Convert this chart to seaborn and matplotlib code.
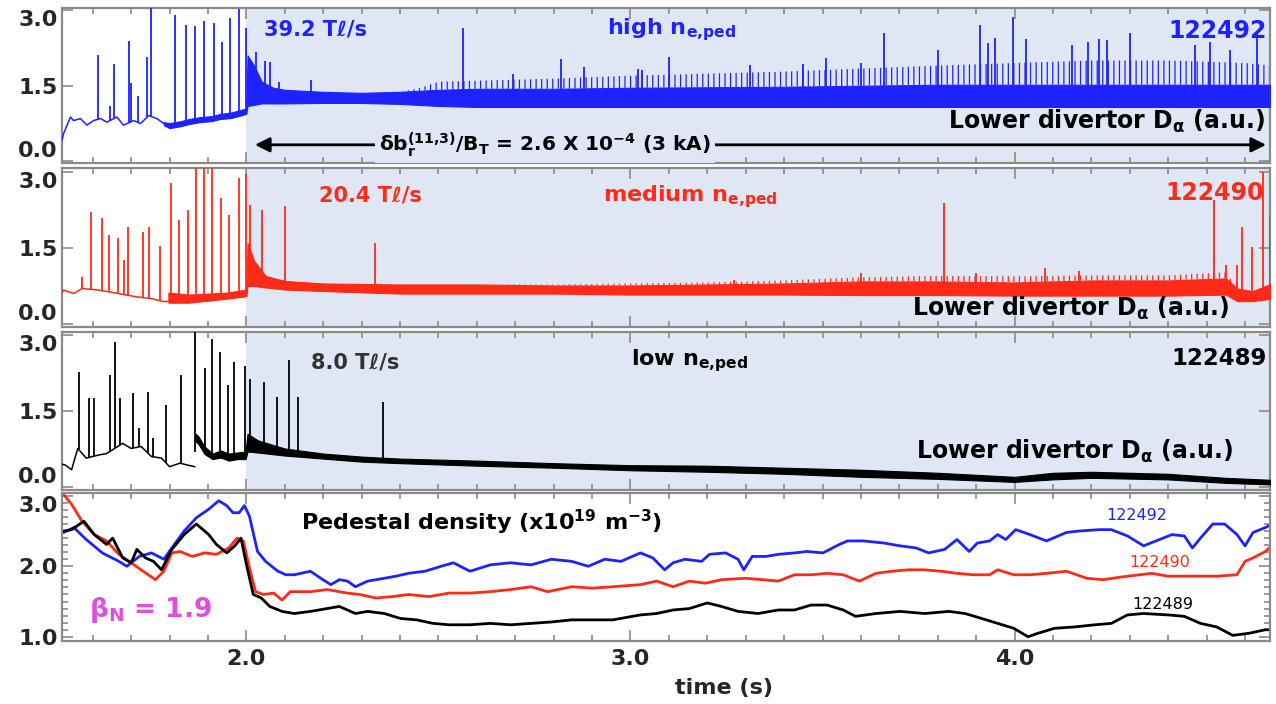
import numpy as np
import matplotlib
matplotlib.use("Agg")
import matplotlib.pyplot as plt
import seaborn as sns
from matplotlib.patches import FancyArrowPatch
from matplotlib.ticker import MultipleLocator, FixedLocator

# ------------------------------------------------------------------ data
# Panel 1 : shot 122492 (high n_e,ped), lower divertor D-alpha (a.u.)
blue_trace_t = [1.520, 1.524, 1.542, 1.550, 1.568, 1.585, 1.602, 1.620, 1.637,
                1.663, 1.680, 1.707, 1.724, 1.746, 1.767, 1.785]
blue_trace_v = [0.42, 0.55, 0.88, 0.81, 0.85, 0.72, 0.81, 0.85, 0.78,
                0.88, 0.72, 0.81, 0.75, 0.91, 0.85, 0.75]
blue_band_t = [1.785, 1.80, 1.83, 1.85, 1.88, 1.91, 1.93, 1.96, 1.99, 2.0,
               2.003, 2.02, 2.04, 2.07, 2.10, 2.20, 2.30, 2.40, 2.45, 2.50,
               2.60, 2.80, 3.00, 3.20, 3.40, 3.60, 3.80, 4.00, 4.20, 4.40,
               4.60, 4.67]
blue_band_lo = [0.72, 0.66, 0.70, 0.74, 0.78, 0.80, 0.84, 0.86, 0.92, 0.95,
                1.10, 1.12, 1.15, 1.15, 1.15, 1.16, 1.16, 1.14, 1.12, 1.10,
                1.08, 1.08, 1.08, 1.08, 1.08, 1.08, 1.08, 1.08, 1.08, 1.08,
                1.08, 1.08]
blue_band_hi = [0.78, 0.76, 0.80, 0.84, 0.88, 0.90, 0.94, 0.97, 1.03, 1.05,
                2.10, 1.90, 1.58, 1.46, 1.42, 1.38, 1.36, 1.38, 1.40, 1.42,
                1.44, 1.44, 1.46, 1.47, 1.48, 1.50, 1.52, 1.52, 1.52, 1.52,
                1.52, 1.52]
blue_fringe_hi = [0.78, 0.76, 0.80, 0.84, 0.88, 0.90, 0.94, 0.97, 1.03, 1.05,
                  2.10, 1.90, 1.58, 1.46, 1.42, 1.38, 1.36, 1.38, 1.45, 1.58,
                  1.60, 1.64, 1.70, 1.74, 1.78, 1.84, 1.90, 1.95, 2.00, 2.00,
                  1.95, 1.90]
blue_spike_t = [1.614, 1.646, 1.656, 1.695, 1.700, 1.718, 1.741, 1.752, 1.813,
                1.842, 1.865, 1.889, 1.915, 1.937, 1.958, 1.980, 2.000, 2.026,
                2.049, 2.062, 2.084, 2.167, 2.564, 2.695, 2.82, 2.88, 3.02,
                3.03, 3.10, 3.31, 3.45, 3.51, 3.60, 3.66, 3.80, 3.91, 3.93,
                3.95, 3.995, 4.03, 4.15, 4.19, 4.22, 4.24, 4.30, 4.47, 4.51,
                4.56, 4.63]
blue_spike_h = [2.10, 1.10, 1.93, 2.39, 1.55, 1.30, 2.07, 3.07, 2.90,
                2.70, 2.68, 2.79, 2.75, 2.37, 2.85, 3.03, 2.64, 2.17,
                2.00, 1.97, 1.58, 1.61, 2.64, 1.74, 2.02, 1.87, 1.84,
                1.81, 2.07, 1.91, 1.94, 2.05, 1.95, 2.55, 2.20, 2.70, 2.34,
                2.44, 2.87, 2.42, 2.30, 2.37, 2.42, 2.40, 2.54, 2.30, 2.37,
                2.20, 2.57]

# Panel 2 : shot 122490 (medium n_e,ped)
red_trace_t = [1.520, 1.524, 1.551, 1.572, 1.615, 1.668, 1.710, 1.753, 1.785, 1.797]
red_trace_v = [0.62, 0.67, 0.60, 0.70, 0.67, 0.60, 0.54, 0.50, 0.44, 0.45]
red_band_t = [1.797, 1.85, 1.90, 1.95, 2.0, 2.003, 2.02, 2.05, 2.10, 2.20, 2.40,
              2.60, 2.80, 3.00, 3.20, 3.40, 3.60, 3.80, 4.00, 4.20, 4.40, 4.55,
              4.58, 4.62, 4.67]
red_band_lo = [0.42, 0.42, 0.46, 0.50, 0.55, 0.75, 0.75, 0.72, 0.68, 0.65, 0.60,
               0.60, 0.60, 0.58, 0.58, 0.58, 0.57, 0.57, 0.56, 0.56, 0.56, 0.58,
               0.45, 0.45, 0.50]
red_band_hi = [0.62, 0.58, 0.60, 0.62, 0.68, 1.60, 1.25, 0.95, 0.85, 0.80, 0.78,
               0.78, 0.76, 0.76, 0.78, 0.80, 0.84, 0.84, 0.82, 0.86, 0.86, 0.90,
               0.70, 0.65, 0.80]
red_fringe_hi = [0.62, 0.58, 0.60, 0.62, 0.68, 1.60, 1.25, 0.95, 0.85, 0.80, 0.78,
                 0.78, 0.78, 0.80, 0.82, 0.86, 0.92, 0.95, 0.94, 0.96, 0.96, 1.02,
                 0.70, 0.65, 0.80]
red_spike_t = [1.572, 1.595, 1.625, 1.643, 1.666, 1.682, 1.692, 1.731, 1.746,
               1.774, 1.804, 1.825, 1.848, 1.870, 1.889, 1.910, 1.933, 1.955,
               1.981, 2.000, 2.010, 2.040, 2.100, 2.334, 3.27, 3.60, 3.816,
               3.90, 4.08, 4.167, 4.518, 4.55, 4.58, 4.593, 4.617, 4.648, 4.665]
red_spike_h = [0.93, 2.22, 2.09, 1.76, 1.69, 1.26, 1.92, 1.82, 1.92,
               1.53, 2.78, 2.05, 2.25, 3.10, 3.10, 3.10, 2.48, 2.15,
               2.88, 2.97, 2.35, 2.25, 2.32, 1.59, 0.87, 1.00, 2.39,
               1.00, 1.10, 1.05, 2.45, 1.16, 1.16, 1.91, 1.52, 3.00, 2.13]

# Panel 3 : shot 122489 (low n_e,ped)
blk_trace_t = [1.520, 1.529, 1.545, 1.561, 1.583, 1.615, 1.636, 1.678, 1.700,
               1.726, 1.753, 1.779, 1.800, 1.827, 1.848, 1.866]
blk_trace_v = [0.45, 0.43, 0.34, 0.76, 0.57, 0.63, 0.66, 0.86, 0.76,
               0.80, 0.60, 0.57, 0.40, 0.47, 0.43, 0.40]
blk_band_t = [1.868, 1.875, 1.891, 1.912, 1.933, 1.955, 1.976, 1.998, 2.003,
              2.03, 2.10, 2.20, 2.30, 2.40, 2.60, 2.80, 3.00, 3.20, 3.40, 3.60,
              3.80, 4.00, 4.10, 4.20, 4.40, 4.55, 4.67]
blk_band_lo = [0.90, 0.85, 0.65, 0.55, 0.58, 0.52, 0.55, 0.55, 0.70,
               0.68, 0.62, 0.56, 0.50, 0.47, 0.42, 0.38, 0.33, 0.30, 0.26, 0.20,
               0.16, 0.10, 0.15, 0.18, 0.15, 0.08, 0.05]
blk_band_hi = [1.05, 1.00, 0.80, 0.66, 0.72, 0.66, 0.68, 0.70, 1.05,
               0.92, 0.76, 0.66, 0.60, 0.56, 0.52, 0.47, 0.43, 0.42, 0.38, 0.34,
               0.28, 0.20, 0.28, 0.30, 0.26, 0.18, 0.14]
blk_spike_t = [1.563, 1.591, 1.604, 1.644, 1.659, 1.670, 1.705, 1.721, 1.744,
               1.758, 1.790, 1.830, 1.867, 1.891, 1.910, 1.931, 1.951, 1.968,
               1.997, 2.010, 2.045, 2.079, 2.112, 2.135, 2.357]
blk_spike_h = [2.28, 1.75, 1.75, 2.21, 2.87, 1.75, 1.85, 1.16, 1.88,
               0.96, 1.62, 2.21, 3.10, 2.34, 2.93, 2.67, 2.01, 2.47,
               2.38, 2.14, 2.08, 1.78, 2.50, 1.78, 1.68]

# Panel 4 : pedestal density (x10^19 m^-3)
ped_blue_t = [1.524, 1.551, 1.583, 1.625, 1.668, 1.689, 1.721, 1.753, 1.785, 1.806,
              1.838, 1.870, 1.902, 1.928, 1.949, 1.965, 1.981, 1.995, 2.008, 2.029,
              2.050, 2.082, 2.103, 2.125, 2.167, 2.199, 2.220, 2.242, 2.263, 2.284,
              2.316, 2.359, 2.390, 2.422, 2.465, 2.507, 2.539, 2.582, 2.635, 2.688,
              2.741, 2.794, 2.847, 2.890, 2.933, 2.975, 3.026, 3.058, 3.089, 3.111,
              3.142, 3.185, 3.206, 3.248, 3.280, 3.295, 3.317, 3.353, 3.385, 3.427,
              3.459, 3.501, 3.544, 3.565, 3.607, 3.660, 3.702, 3.744, 3.776, 3.818,
              3.850, 3.882, 3.903, 3.935, 3.956, 3.977, 4.003, 4.040, 4.083, 4.135,
              4.167, 4.220, 4.252, 4.294, 4.336, 4.368, 4.410, 4.442, 4.463, 4.484,
              4.516, 4.547, 4.579, 4.600, 4.621, 4.653, 4.683]
ped_blue_v = [2.48, 2.55, 2.38, 2.19, 2.07, 2.00, 2.14, 2.19, 2.10, 2.26,
              2.50, 2.69, 2.81, 2.93, 2.86, 2.76, 2.76, 2.86, 2.71, 2.21,
              2.07, 1.93, 1.88, 1.88, 1.93, 1.81, 1.74, 1.81, 1.79, 1.71,
              1.79, 1.83, 1.86, 1.90, 1.93, 2.00, 2.05, 1.93, 2.02, 2.05,
              2.02, 2.10, 2.07, 2.00, 2.10, 2.07, 2.19, 2.12, 1.95, 2.05,
              2.10, 2.07, 2.17, 2.19, 2.10, 1.95, 2.14, 2.14, 2.17, 2.19,
              2.21, 2.19, 2.31, 2.36, 2.36, 2.33, 2.29, 2.26, 2.19, 2.24,
              2.38, 2.21, 2.33, 2.36, 2.45, 2.38, 2.52, 2.45, 2.36, 2.48,
              2.50, 2.52, 2.52, 2.43, 2.29, 2.36, 2.45, 2.43, 2.26, 2.40,
              2.60, 2.60, 2.45, 2.29, 2.48, 2.55, 2.64]
ped_red_t = [1.520, 1.524, 1.545, 1.572, 1.604, 1.636, 1.668, 1.700, 1.731, 1.763,
             1.785, 1.806, 1.827, 1.859, 1.891, 1.922, 1.954, 1.976, 1.992, 2.008,
             2.024, 2.045, 2.071, 2.093, 2.114, 2.167, 2.210, 2.263, 2.295, 2.337,
             2.380, 2.422, 2.475, 2.528, 2.582, 2.635, 2.688, 2.741, 2.784, 2.847,
             2.901, 2.954, 3.026, 3.068, 3.111, 3.153, 3.195, 3.237, 3.301, 3.343,
             3.385, 3.427, 3.470, 3.512, 3.554, 3.596, 3.639, 3.681, 3.723, 3.766,
             3.808, 3.850, 3.892, 3.935, 3.956, 3.998, 4.040, 4.083, 4.135, 4.188,
             4.230, 4.294, 4.357, 4.399, 4.463, 4.526, 4.579, 4.600, 4.621, 4.653,
             4.683]
ped_red_v = [3.05, 3.02, 2.88, 2.64, 2.45, 2.36, 2.17, 2.05, 1.93, 1.81,
             1.93, 2.19, 2.21, 2.14, 2.19, 2.17, 2.26, 2.40, 2.36, 1.98,
             1.64, 1.60, 1.62, 1.52, 1.64, 1.64, 1.67, 1.62, 1.60, 1.55,
             1.57, 1.60, 1.57, 1.62, 1.62, 1.64, 1.67, 1.71, 1.64, 1.71,
             1.69, 1.71, 1.74, 1.79, 1.71, 1.79, 1.76, 1.81, 1.83, 1.81,
             1.79, 1.88, 1.88, 1.90, 1.88, 1.79, 1.90, 1.93, 1.95, 1.95,
             1.93, 1.90, 1.88, 1.88, 1.95, 1.88, 1.88, 1.90, 1.93, 1.83,
             1.81, 1.86, 1.90, 1.86, 1.86, 1.86, 1.88, 2.07, 2.12, 2.21,
             2.36]
ped_blk_t = [1.524, 1.545, 1.577, 1.604, 1.636, 1.652, 1.678, 1.700, 1.715, 1.737,
             1.758, 1.779, 1.806, 1.838, 1.870, 1.902, 1.922, 1.949, 1.970, 1.986,
             2.002, 2.018, 2.039, 2.061, 2.093, 2.125, 2.167, 2.210, 2.242, 2.284,
             2.316, 2.359, 2.401, 2.443, 2.486, 2.528, 2.582, 2.635, 2.688, 2.741,
             2.794, 2.847, 2.901, 2.954, 3.026, 3.068, 3.111, 3.153, 3.200, 3.237,
             3.280, 3.332, 3.385, 3.427, 3.470, 3.512, 3.554, 3.586, 3.639, 3.702,
             3.766, 3.829, 3.871, 3.914, 3.956, 3.998, 4.035, 4.061, 4.104, 4.157,
             4.209, 4.252, 4.294, 4.336, 4.400, 4.442, 4.484, 4.526, 4.568, 4.611,
             4.653, 4.682]
ped_blk_v = [2.50, 2.52, 2.64, 2.45, 2.31, 2.40, 2.12, 2.05, 2.24, 2.12,
             2.07, 1.95, 2.24, 2.45, 2.60, 2.45, 2.31, 2.19, 2.29, 2.40,
             1.98, 1.60, 1.55, 1.43, 1.36, 1.33, 1.36, 1.40, 1.43, 1.33,
             1.36, 1.33, 1.26, 1.24, 1.19, 1.17, 1.17, 1.19, 1.17, 1.19,
             1.21, 1.24, 1.24, 1.24, 1.31, 1.33, 1.38, 1.40, 1.48, 1.43,
             1.36, 1.33, 1.38, 1.38, 1.45, 1.45, 1.38, 1.29, 1.33, 1.36,
             1.33, 1.36, 1.33, 1.26, 1.19, 1.12, 1.00, 1.05, 1.12, 1.14,
             1.17, 1.19, 1.31, 1.33, 1.31, 1.29, 1.19, 1.14, 1.02, 1.05,
             1.10, 1.10]

x_range = (1.52, 4.665)
d_yticks = [0.0, 1.5, 3.0]
d_ylabels = ["0.0", "1.5", "3.0"]
p_yticks = [1.0, 2.0, 3.0]
p_ylabels = ["1.0", "2.0", "3.0"]
x_ticks = [2.0, 3.0, 4.0]
x_labels = ["2.0", "3.0", "4.0"]
rmp_start = 2.0

# ------------------------------------------------------------------ style
sns.set_theme(style="white")
plt.rcParams["font.family"] = ["DejaVu Sans"]
plt.rcParams["font.weight"] = "bold"
plt.rcParams["mathtext.fontset"] = "dejavusans"
plt.rcParams["mathtext.default"] = "bf"
plt.rcParams["hatch.linewidth"] = 0.9

BLUE = "#1e22ff"
RED = "#ff2a18"
BLACK = "#000000"
SHADE = "#dfe7f4"
FRAME = "#8a8a8a"
MAGENTA = "#e04de0"

fig = plt.figure(figsize=(12.76, 7.04), dpi=100)
W, H = 1276.0, 704.0
left, right = 62, 1270


def add_panel(top, bottom):
    return fig.add_axes([left / W, 1 - bottom / H, (right - left) / W, (bottom - top) / H])


axes = [add_panel(8, 163), add_panel(168, 327), add_panel(332, 490), add_panel(493, 641)]


def style_axis(ax, yticks, ylabels, ylim, yminor=None, xlabels=False, shift_bottom=True):
    ax.set_xlim(*x_range)
    ax.set_ylim(*ylim)
    for s in ax.spines.values():
        s.set_color(FRAME)
        s.set_linewidth(1.6)
    ax.xaxis.set_major_locator(FixedLocator(x_ticks))
    ax.xaxis.set_minor_locator(MultipleLocator(0.1))
    ax.yaxis.set_major_locator(FixedLocator(yticks))
    if yminor:
        ax.yaxis.set_minor_locator(MultipleLocator(yminor))
    ax.set_yticklabels(ylabels)
    ax.tick_params(which="both", direction="in", top=True, right=True,
                   left=True, bottom=True, color=FRAME, width=1.2)
    ax.tick_params(which="major", length=8)
    ax.tick_params(which="minor", length=4)
    ax.tick_params(axis="y", labelsize=16, pad=3)
    if xlabels:
        ax.set_xticklabels(x_labels)
        ax.tick_params(axis="x", labelsize=16, pad=6)
    else:
        ax.tick_params(axis="x", labelbottom=False)
    for lab in ax.get_yticklabels() + ax.get_xticklabels():
        lab.set_fontweight("bold")
    ylabs = ax.get_yticklabels()
    ylabs[-1].set_verticalalignment("top")
    if shift_bottom:
        ylabs[0].set_verticalalignment("bottom")
    ax.set_xlabel("")
    ax.set_ylabel("")


def draw_dalpha(ax, tr_t, tr_v, b_t, b_lo, b_hi, sp_t, sp_h, color, fringe=None):
    ax.axvspan(rmp_start, x_range[1] + 0.1, color=SHADE, zorder=0, lw=0)
    sns.lineplot(x=tr_t, y=tr_v, ax=ax, color=color, lw=1.1, sort=False,
                 estimator=None, zorder=3)
    if fringe is not None:
        ax.fill_between(b_t, b_hi, fringe, facecolor="none", edgecolor=color,
                        hatch="|||", lw=0, zorder=2)
    ax.fill_between(b_t, b_lo, b_hi, color=color, lw=0.8, zorder=3)
    base_t = list(tr_t) + list(b_t)
    base_v = list(tr_v) + [(a + b) / 2 for a, b in zip(b_lo, b_hi)]
    base = np.interp(sp_t, base_t, base_v)
    ax.vlines(sp_t, base, sp_h, color=color, lw=1.3, zorder=3)


DIV = r"Lower divertor D$_\alpha$ (a.u.)"

# Panel 1
ax = axes[0]
draw_dalpha(ax, blue_trace_t, blue_trace_v, blue_band_t, blue_band_lo, blue_band_hi,
            blue_spike_t, blue_spike_h, BLUE, fringe=blue_fringe_hi)
style_axis(ax, d_yticks, d_ylabels, (-0.03, 3.04))
ax.text(0.21, 0.86, "39.2 T\u2113/s", transform=ax.transAxes, color=BLUE,
        fontsize=15, ha="center", va="center")
ax.text(0.505, 0.86, r"high n$_{e{,}ped}$", transform=ax.transAxes, color=BLUE,
        fontsize=16, ha="center", va="center")
ax.text(0.997, 0.85, "122492", transform=ax.transAxes, color=BLUE,
        fontsize=17, ha="right", va="center")
ax.text(0.996, 0.27, DIV, transform=ax.transAxes,
        color=BLACK, fontsize=17, ha="right", va="center", zorder=6)
arr = FancyArrowPatch((2.015, 0.33), (4.662, 0.33), arrowstyle="<|-|>",
                      mutation_scale=22, lw=2.0, color=BLACK, zorder=5)
ax.add_patch(arr)
ax.text(2.778, 0.33, r"$\delta$b$_r^{(11{,}3)}$/B$_T$ = 2.6 X 10$^{-4}$ (3 kA)",
        color=BLACK, fontsize=14.5, ha="center", va="center", zorder=6,
        bbox=dict(boxstyle="square,pad=0.2", facecolor=SHADE, edgecolor="none"))

# Panel 2
ax = axes[1]
draw_dalpha(ax, red_trace_t, red_trace_v, red_band_t, red_band_lo, red_band_hi,
            red_spike_t, red_spike_h, RED, fringe=red_fringe_hi)
style_axis(ax, d_yticks, d_ylabels, (-0.06, 3.08))
ax.text(0.255, 0.83, "20.4 T\u2113/s", transform=ax.transAxes, color=RED,
        fontsize=15, ha="center", va="center")
ax.text(0.52, 0.82, r"medium n$_{e{,}ped}$", transform=ax.transAxes, color=RED,
        fontsize=16, ha="center", va="center")
ax.text(0.995, 0.84, "122490", transform=ax.transAxes, color=RED,
        fontsize=17, ha="right", va="center", zorder=6)
ax.text(0.966, 0.12, DIV, transform=ax.transAxes,
        color=BLACK, fontsize=17, ha="right", va="center", zorder=6)

# Panel 3
ax = axes[2]
draw_dalpha(ax, blk_trace_t, blk_trace_v, blk_band_t, blk_band_lo, blk_band_hi,
            blk_spike_t, blk_spike_h, BLACK)
style_axis(ax, d_yticks, d_ylabels, (-0.06, 3.06))
ax.text(0.243, 0.81, "8.0 T\u2113/s", transform=ax.transAxes, color="#333333",
        fontsize=15, ha="center", va="center")
ax.text(0.52, 0.82, r"low n$_{e{,}ped}$", transform=ax.transAxes, color=BLACK,
        fontsize=16, ha="center", va="center")
ax.text(0.997, 0.835, "122489", transform=ax.transAxes, color=BLACK,
        fontsize=16.5, ha="right", va="center")
ax.text(0.969, 0.245, DIV, transform=ax.transAxes,
        color=BLACK, fontsize=17, ha="right", va="center", zorder=6)

# Panel 4
ax = axes[3]
sns.lineplot(x=ped_blue_t, y=ped_blue_v, ax=ax, color=BLUE, lw=2.0, sort=False, estimator=None)
sns.lineplot(x=ped_red_t, y=ped_red_v, ax=ax, color=RED, lw=2.0, sort=False, estimator=None)
sns.lineplot(x=ped_blk_t, y=ped_blk_v, ax=ax, color=BLACK, lw=2.0, sort=False, estimator=None)
style_axis(ax, p_yticks, p_ylabels, (0.94, 3.04), yminor=0.1, xlabels=True,
           shift_bottom=False)
ax.text(0.347, 0.80, r"Pedestal density (x10$^{19}$ m$^{-3}$)", transform=ax.transAxes,
        color=BLACK, fontsize=16, ha="center", va="center")
ax.text(0.89, 0.85, "122492", transform=ax.transAxes, color=BLUE, fontsize=11.5,
        ha="center", va="center", fontweight="normal")
ax.text(0.909, 0.53, "122490", transform=ax.transAxes, color=RED, fontsize=11.5,
        ha="center", va="center", fontweight="normal")
ax.text(0.911, 0.245, "122489", transform=ax.transAxes, color=BLACK, fontsize=11.5,
        ha="center", va="center", fontweight="normal")
ax.text(0.022, 0.21, r"$\beta_N$ = 1.9", transform=ax.transAxes, color=MAGENTA,
        fontsize=19, ha="left", va="center")
fig.text(724 / W, 1 - 688 / H, "time (s)", fontsize=16, fontweight="bold",
         ha="center", va="center")

fig.savefig("out.png", dpi=100)
